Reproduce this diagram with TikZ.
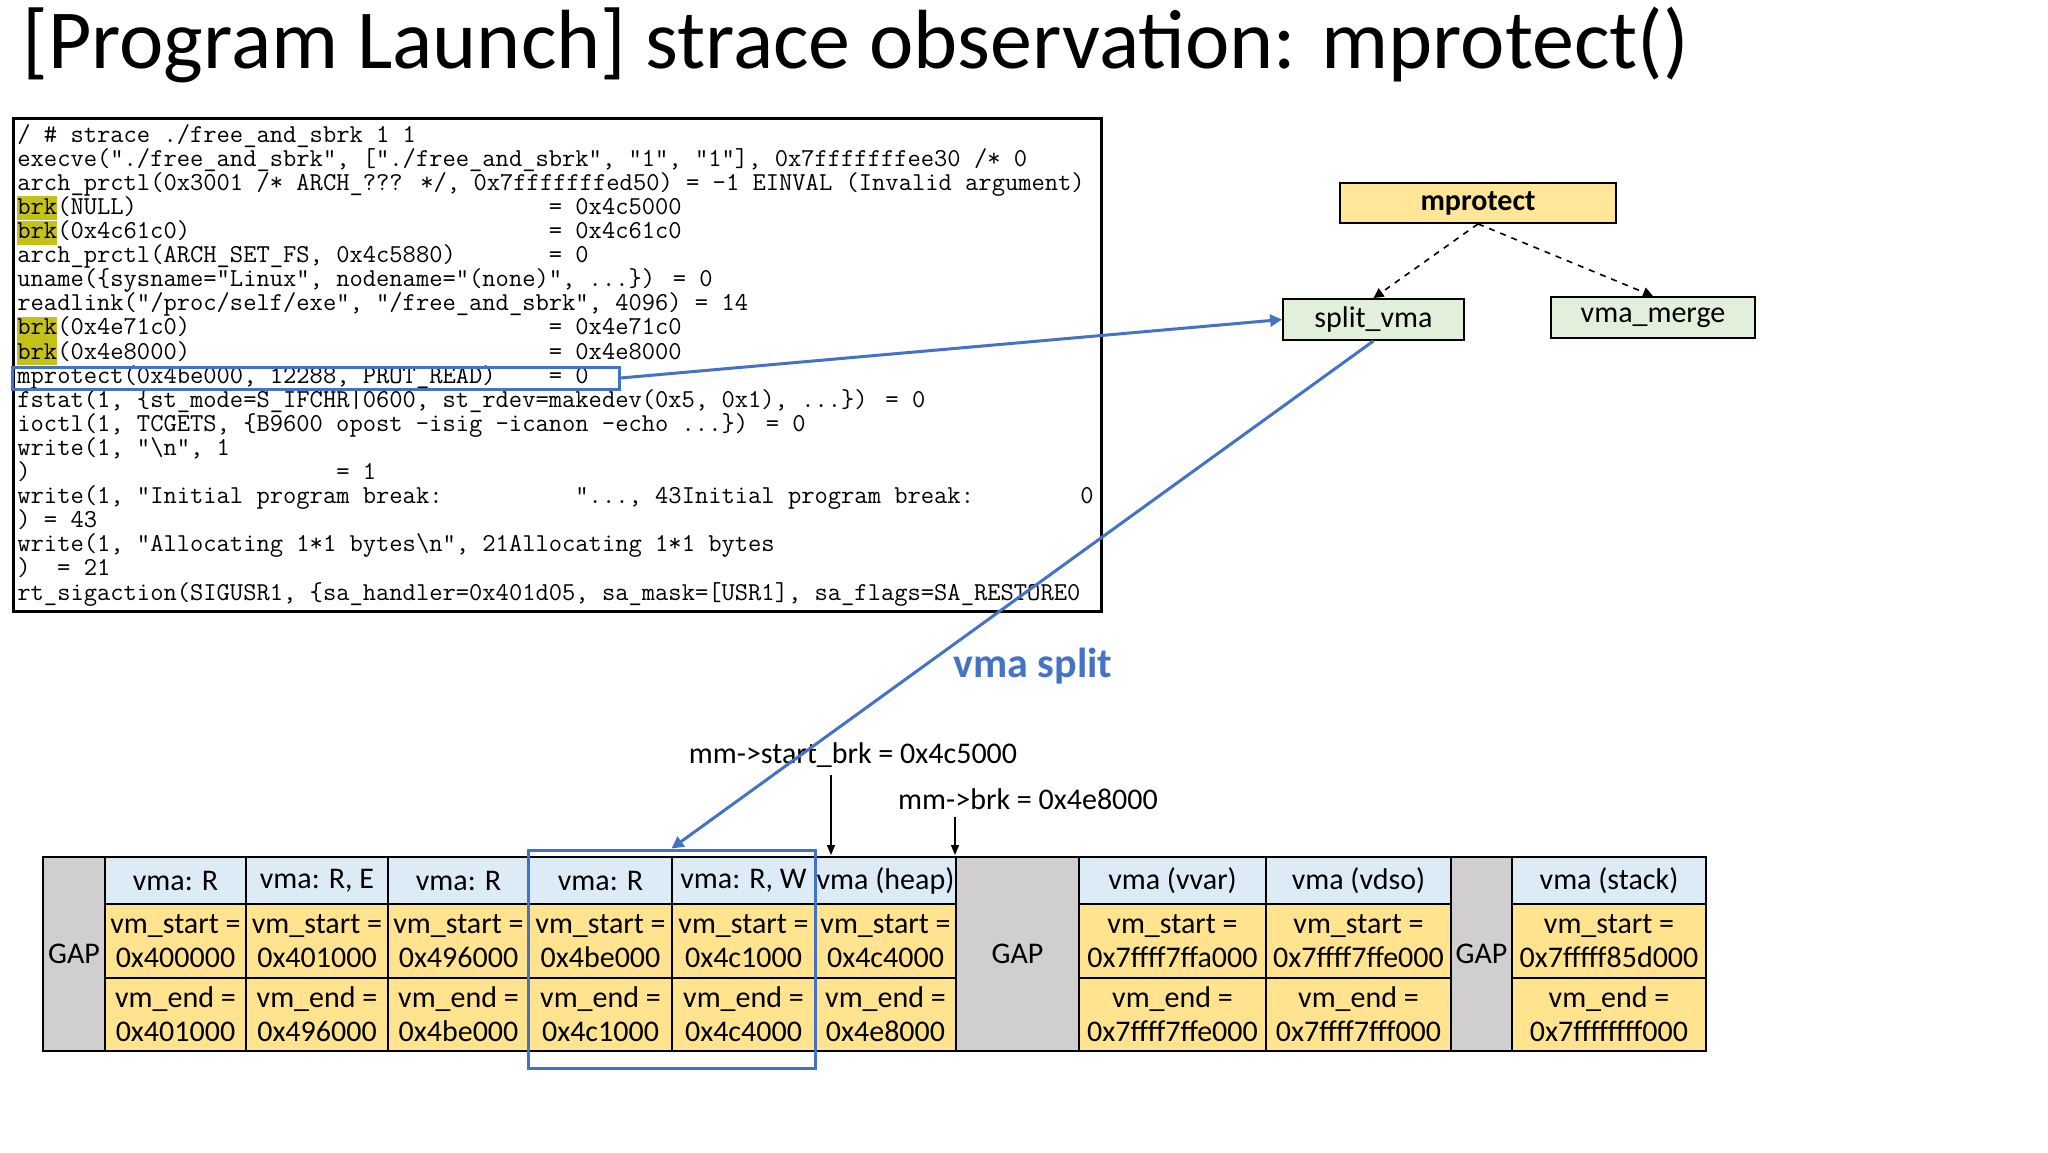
\documentclass[tikz,border=0pt]{standalone}
\usepackage{fontspec}
\setmainfont{Carlito}
\usepackage{tikz}
\usetikzlibrary{arrows.meta,positioning}

\definecolor{ppblue}{HTML}{4472C4}
\definecolor{hdblue}{HTML}{DDEBF7}
\definecolor{cellyel}{HTML}{FFE38F}
\definecolor{gapgray}{HTML}{D0CECE}
\definecolor{callyel}{HTML}{FFE699}
\definecolor{fngreen}{HTML}{E2EFDA}
\definecolor{brkhl}{HTML}{C4C21A}

% n blank columns of the mono font
\newcommand\sk[1]{\hspace*{#1\fontcharwd\font`0}}
% highlighted brk
\newcommand\hlb{{\setlength{\fboxsep}{0pt}\colorbox{brkhl}{\rule[-3pt]{0pt}{12pt}brk}}}

\begin{document}
\begin{tikzpicture}[x=0.5pt,y=-0.5pt,
  font=\fontsize{15}{17}\selectfont,
  every node/.style={align=center},
  cellbox/.style={draw,line width=0.9pt,inner sep=0pt},
  hdcell/.style={cellbox,fill=hdblue,minimum height=23.5pt},
  valcell/.style={cellbox,fill=cellyel,minimum height=36.75pt},
  gapcell/.style={cellbox,fill=gapgray,minimum height=97pt},
  fnbox/.style={draw,line width=0.9pt,minimum height=20.5pt,inner sep=0pt},
  dasharr/.style={-{Triangle[length=5pt,width=5pt]},dashed,line width=0.8pt},
  bluearr/.style={-{Triangle[length=6pt,width=6pt]},ppblue,line width=1.5pt},
  ptr/.style={-{Triangle[length=5pt,width=4pt]},line width=0.7pt}
]
\useasboundingbox (0,0) rectangle (2048,1152);
% --- title ---
\node[anchor=base west,inner sep=0pt,font=\fontsize{42}{48}\selectfont] (title) at (22,68)
  {[Program Launch] strace observation: mprotect()};
% --- strace output ---
\node[draw,line width=1.5pt,minimum width=544pt,minimum height=246.5pt] (strace) at (557,364.5) {};
\node[anchor=base west,align=left,inner sep=0pt,
      font=\ttfamily\fontsize{12.9}{12.05}\selectfont] (stracetxt) at (17,600) {%
/ \# strace ./free\_and\_sbrk 1 1\\
execve("./free\_and\_sbrk", ["./free\_and\_sbrk", "1", "1"], 0x7fffffffee30 /* 0\\
arch\_prctl(0x3001 /* ARCH\_??? */, 0x7fffffffed50) = -1 EINVAL (Invalid argument)\\
\hlb(NULL)\sk{31}= 0x4c5000\\
\hlb(0x4c61c0)\sk{27}= 0x4c61c0\\
arch\_prctl(ARCH\_SET\_FS, 0x4c5880)\sk{7}= 0\\
uname(\{sysname="Linux", nodename="(none)", ...\}) = 0\\
readlink("/proc/self/exe", "/free\_and\_sbrk", 4096) = 14\\
\hlb(0x4e71c0)\sk{27}= 0x4e71c0\\
\hlb(0x4e8000)\sk{27}= 0x4e8000\\
mprotect(0x4be000, 12288, PROT\_READ)\sk{4}= 0\\
fstat(1, \{st\_mode=S\_IFCHR|0600, st\_rdev=makedev(0x5, 0x1), ...\}) = 0\\
ioctl(1, TCGETS, \{B9600 opost -isig -icanon -echo ...\}) = 0\\
write(1, "\textbackslash n", 1\\
)\sk{23}= 1\\
write(1, "Initial program break:\sk{10}"..., 43Initial program break:\sk{8}0\\
) = 43\\
write(1, "Allocating 1*1 bytes\textbackslash n", 21Allocating 1*1 bytes\\
)\sk{2}= 21\\
rt\_sigaction(SIGUSR1, \{sa\_handler=0x401d05, sa\_mask=[USR1], sa\_flags=SA\_RESTORE0};
\node[draw=ppblue,line width=1.5pt,minimum width=303.5pt,minimum height=11pt,inner sep=0pt]
  (protline) at (315.5,378) {};
% --- call tree ---
\node[fnbox,fill=callyel,minimum width=138pt,minimum height=20pt,font=\fontsize{15}{17}\bfseries]
  (mprot) at (1478,203) {mprotect};
\node[fnbox,fill=fngreen,minimum width=90.5pt] (splitvma) at (1373.5,319.5) {split\_vma};
\node[fnbox,fill=fngreen,minimum width=102pt] (vmamerge) at (1653,317.5) {vma\_merge};
\draw[dasharr] (mprot.south) -- (splitvma.north);
\draw[dasharr] (mprot.south) -- (vmamerge.north);
% --- vma list ---
\node[gapcell,minimum width=31pt]   (gap1) at (74,954)     {GAP};
\node[gapcell,minimum width=61.5pt] (gap2) at (1017.5,954) {GAP};
\node[gapcell,minimum width=30.5pt] (gap3) at (1481.5,954) {GAP};
\foreach \n/\xl/\xr/\hd/\vs/\ve in {
    c1/105/246/{vma: R}/0x400000/0x401000,
    c2/246/388/{vma: R, E}/0x401000/0x496000,
    c3/388/529/{vma: R}/0x496000/0x4be000,
    c4/529/672/{vma: R}/0x4be000/0x4c1000,
    c5/672/815/{vma: R, W}/0x4c1000/0x4c4000,
    c6/815/956/{vma (heap)}/0x4c4000/0x4e8000,
    c7/1079/1266/{vma (vvar)}/0x7ffff7ffa000/0x7ffff7ffe000,
    c8/1266/1451/{vma (vdso)}/0x7ffff7ffe000/0x7ffff7fff000,
    c9/1512/1706/{vma (stack)}/0x7fffff85d000/0x7ffffffff000}{
  \pgfmathsetmacro\cw{(\xr-\xl)*0.5}
  \pgfmathsetmacro\cx{(\xl+\xr)/2}
  \node[hdcell,minimum width=\cw pt]  (\n-h) at (\cx,880.5)  {\hd};
  \node[valcell,minimum width=\cw pt] (\n-s) at (\cx,941)    {vm\_start =\\\vs};
  \node[valcell,minimum width=\cw pt] (\n-e) at (\cx,1014.5) {vm\_end =\\\ve};
}
\node[draw=ppblue,line width=1.5pt,minimum width=143.5pt,minimum height=109pt,inner sep=0pt]
  (vmabox) at (671.5,959) {};
% --- brk pointers ---
\node (startbrk) at (853,755) {mm->start\_brk = 0x4c5000};
\node (brklbl) at (1028,799) {mm->brk = 0x4e8000};
\coordinate (sbrkpt) at (831,855);
\coordinate (brkpt) at (955,855);
\draw[ptr] (startbrk.south -| sbrkpt) -- (sbrkpt);
\draw[ptr] (brklbl.south -| brkpt) -- (brkpt);
% --- split ---
\node[text=ppblue,font=\fontsize{21}{24}\bfseries] (splitlbl) at (1033,666) {vma split};
\draw[bluearr] (protline.east) -- (splitvma.west);
\draw[bluearr] (splitvma.south) -- (vmabox.north);
\end{tikzpicture}
\end{document}
